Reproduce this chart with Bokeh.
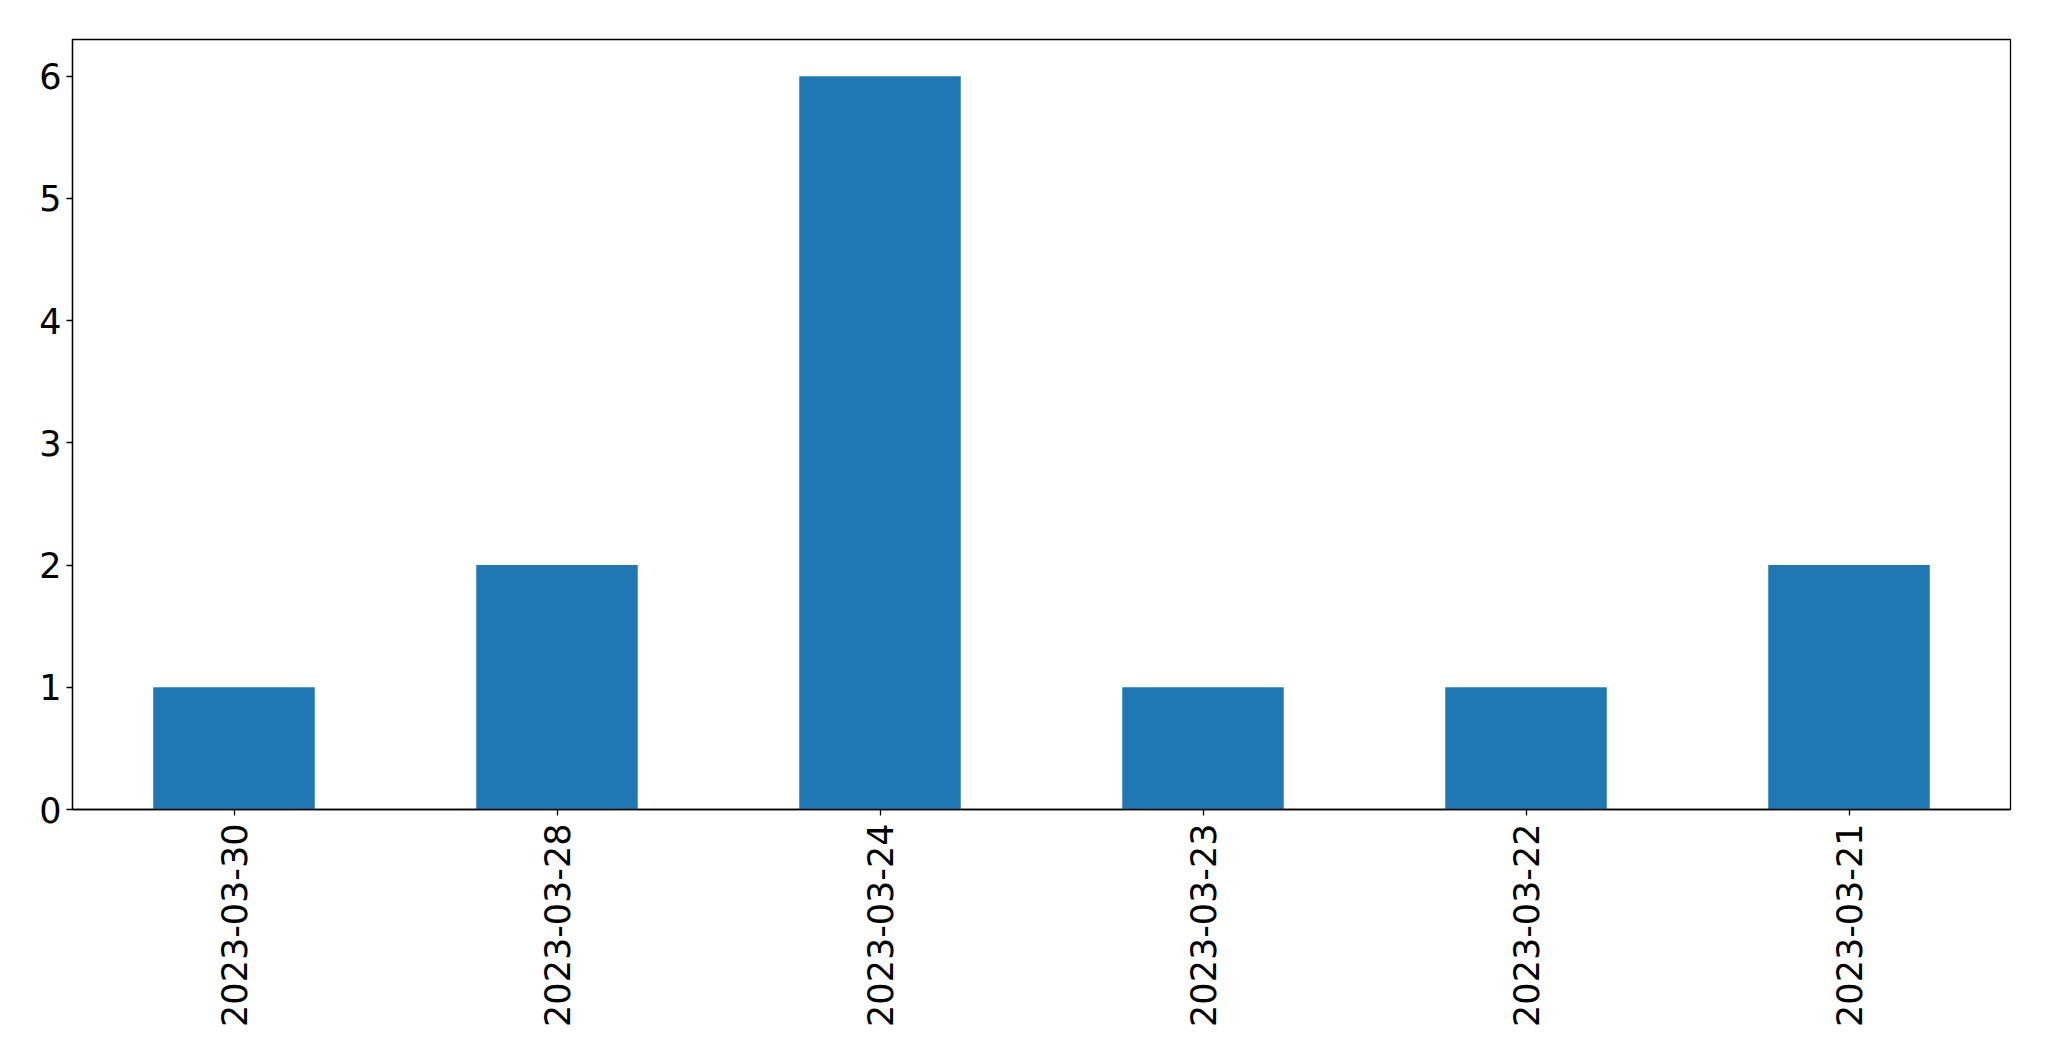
import math
from bokeh.plotting import figure
from bokeh.models import Range1d, FactorRange
from bokeh.embed import file_html
from bokeh.resources import INLINE

dates = ["2023-03-30", "2023-03-28", "2023-03-24", "2023-03-23", "2023-03-22", "2023-03-21"]
counts = [1, 2, 6, 1, 1, 2]

p = figure(x_range=FactorRange(*dates, range_padding=0), y_range=Range1d(0, 6.3),
           width=2038, height=1053, output_backend="svg", toolbar_location=None,
           min_border_left=72, min_border_top=39, min_border_right=28, min_border_bottom=244)
p.x_range.factor_padding = 0
p.vbar(x=dates, top=counts, width=0.5, color="#1f77b4", line_color=None)

p.xgrid.visible = False
p.ygrid.visible = False
p.outline_line_color = "black"
p.outline_line_width = 1.3
p.background_fill_color = "white"
p.border_fill_color = "white"

for ax in (p.xaxis[0], p.yaxis[0]):
    ax.axis_line_color = "black"
    ax.axis_line_width = 1.3
    ax.major_tick_line_color = "black"
    ax.major_tick_line_width = 1.3
    ax.major_tick_out = 6
    ax.major_tick_in = 0
    ax.minor_tick_line_color = None
    ax.major_label_text_font = "DejaVu Sans"
    ax.major_label_text_font_size = "35px"
    ax.major_label_text_color = "black"

p.yaxis[0].ticker = [0, 1, 2, 3, 4, 5, 6]
p.yaxis[0].major_label_standoff = 5
p.xaxis[0].major_label_orientation = math.pi / 2
p.xaxis[0].major_label_standoff = 8

open("out.html", "w").write(file_html(p, INLINE))
